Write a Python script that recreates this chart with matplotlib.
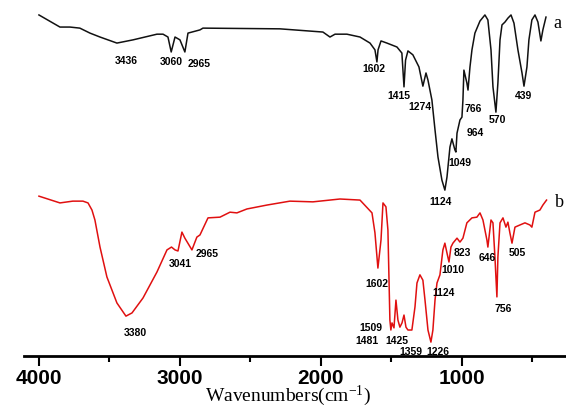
import numpy as np
import matplotlib
matplotlib.use("Agg")
import matplotlib.pyplot as plt

plt.rcParams["font.family"] = ["Liberation Sans", "DejaVu Sans"]
plt.rcParams["mathtext.default"] = "regular"

# ── spectrum a (black) : wavenumber, transmittance (a.u.) ─────────────────────
wn_a = [4000, 3851, 3780, 3710, 3638, 3567, 3447, 3333, 3163, 3120, 3085, 3062,
        3035, 3000, 2965, 2943, 2858, 2837, 2291, 1986, 1936, 1900, 1816, 1723,
        1652, 1617, 1603, 1595, 1574, 1532, 1461, 1426, 1411, 1400, 1383, 1348,
        1305, 1277, 1255, 1241, 1213, 1191, 1170, 1142, 1121, 1106, 1085, 1071,
        1050, 1043, 1035, 1014, 1000, 993, 986, 965, 957, 943, 929, 908, 872,
        837, 816, 794, 780, 759, 745, 730, 716, 695, 674, 652, 631, 603, 574,
        560, 539, 525, 504, 482, 461, 440, 426, 404]
t_a = [95.8, 92.4, 92.4, 92.1, 90.7, 89.6, 87.9, 88.8, 90.4, 90.4, 89.6, 85.4,
       89.6, 88.8, 85.4, 90.7, 91.6, 92.1, 91.9, 91.0, 89.6, 90.4, 90.4, 89.6,
       87.9, 86.0, 82.6, 86.0, 88.5, 87.9, 86.8, 85.1, 75.6, 83.1, 85.7, 84.6,
       81.2, 75.8, 79.5, 77.5, 71.9, 63.5, 55.9, 49.4, 46.6, 50.3, 58.7, 61.0,
       57.9, 57.3, 62.6, 66.3, 67.1, 71.9, 80.3, 76.7, 74.7, 81.2, 86.0, 90.7,
       94.1, 95.8, 94.4, 86.0, 75.6, 68.5, 76.7, 88.8, 93.0, 93.8, 94.9, 95.8,
       93.5, 86.0, 79.5, 75.8, 81.2, 88.8, 94.4, 95.8, 93.8, 88.5, 91.6, 95.2]

# ── spectrum b (red) ──────────────────────────────────────────────────────────
wn_b = [4000, 3851, 3760, 3688, 3652, 3624, 3603, 3567, 3518, 3447, 3383, 3340,
        3262, 3163, 3092, 3060, 3035, 3014, 2986, 2965, 2915, 2880, 2858, 2801,
        2716, 2645, 2596, 2525, 2383, 2220, 2057, 1865, 1723, 1638, 1617, 1596,
        1574, 1560, 1539, 1525, 1511, 1504, 1496, 1482, 1468, 1454, 1440, 1425,
        1411, 1397, 1383, 1355, 1333, 1319, 1298, 1277, 1262, 1241, 1220, 1206,
        1191, 1177, 1156, 1135, 1121, 1106, 1092, 1078, 1064, 1035, 1014, 993,
        965, 929, 894, 872, 851, 823, 816, 794, 780, 766, 752, 745, 730, 709,
        688, 674, 660, 645, 624, 589, 553, 518, 504, 482, 447, 426, 400]
t_b = [44.9, 43.0, 43.5, 43.5, 43.0, 41.0, 38.2, 30.6, 22.2, 14.9, 11.2, 12.1,
       16.3, 23.6, 29.8, 30.6, 29.8, 29.5, 34.8, 33.1, 29.8, 33.4, 34.0, 38.8,
       39.0, 40.4, 40.2, 41.3, 42.4, 43.5, 43.3, 44.1, 43.8, 40.2, 34.6, 24.7,
       32.6, 43.0, 41.9, 35.4, 10.1, 7.3, 9.3, 7.9, 15.7, 10.1, 8.1, 9.3,
       11.5, 8.1, 7.3, 7.3, 13.8, 20.5, 22.8, 21.3, 15.7, 7.3, 3.9, 7.3,
       15.7, 20.5, 22.8, 29.8, 31.7, 28.9, 26.4, 30.6, 31.7, 33.1, 32.0, 33.1,
       37.4, 38.8, 39.0, 40.2, 38.2, 32.6, 30.6, 38.2, 37.4, 27.8, 16.6, 27.8,
       37.4, 38.8, 36.2, 37.6, 34.6, 31.7, 36.2, 36.8, 37.4, 36.8, 36.2, 40.4,
       41.0, 42.4, 43.8]

# peak labels and where they sit
peaks_a = ["3436", "3060", "2965", "1602", "1415", "1274", "766", "964",
           "1049", "1124", "570", "439"]
pos_a = [(3383, 82.9), (3064, 82.6), (2865, 82.0), (1624, 80.6), (1447, 73.0),
         (1298, 69.9), (922, 69.4), (908, 62.6), (1014, 54.2), (1149, 43.3),
         (752, 66.3), (560, 73.0)]
peaks_b = ["3380", "3041", "2965", "1602", "1509", "1481", "1425", "1359",
           "1226", "1124", "1010", "823", "646", "505", "756"]
pos_b = [(3319, 6.5), (3000, 25.8), (2809, 28.7), (1603, 20.2), (1645, 7.9),
         (1674, 4.2), (1461, 4.2), (1362, 1.1), (1170, 1.1), (1128, 17.7),
         (1064, 24.2), (1000, 28.9), (823, 27.5), (610, 28.9), (709, 13.2)]

fig = plt.figure(figsize=(5.66, 4.07), dpi=100)
ax = fig.add_axes([24 / 566, 1 - 356 / 407, 1 - 24 / 566, 356 / 407])
ax.patch.set_alpha(0)

ax.plot(wn_a, t_a, color="#111111", lw=1.1)
ax.plot(wn_b, t_b, color="#e01010", lw=1.1)

for s, (x, y) in zip(peaks_a, pos_a):
    ax.text(x, y, s, ha="center", va="center", fontsize=7.5, fontweight="bold")
for s, (x, y) in zip(peaks_b, pos_b):
    ax.text(x, y, s, ha="center", va="center", fontsize=7.5, fontweight="bold")

ax.text(326, 93.5, "a", ha="center", va="center", fontsize=13,
        family="Liberation Serif")
ax.text(305, 43.0, "b", ha="center", va="center", fontsize=13,
        family="Liberation Serif")

ax.set_xlim(4106, 262)
ax.set_ylim(0, 100)
for sp in ["top", "left", "right"]:
    ax.spines[sp].set_visible(False)
ax.spines["bottom"].set_linewidth(2)
ax.set_yticks([])
ax.set_xticks([4000, 3000, 2000, 1000])
ax.set_xticks([3500, 2500, 1500, 500], minor=True)
ax.tick_params(axis="x", which="major", direction="out", length=7, width=1.5,
               pad=2, labelsize=15)
ax.tick_params(axis="x", which="minor", direction="out", length=4, width=1.5)
for lab in ax.get_xticklabels():
    lab.set_fontweight("bold")

fig.text(288 / 566, 1 - 401 / 407, r"Wavenumbers(cm$^{-1}$)", ha="center",
         va="baseline", fontsize=14, family="Liberation Serif")

fig.savefig("out.png", dpi=100)
